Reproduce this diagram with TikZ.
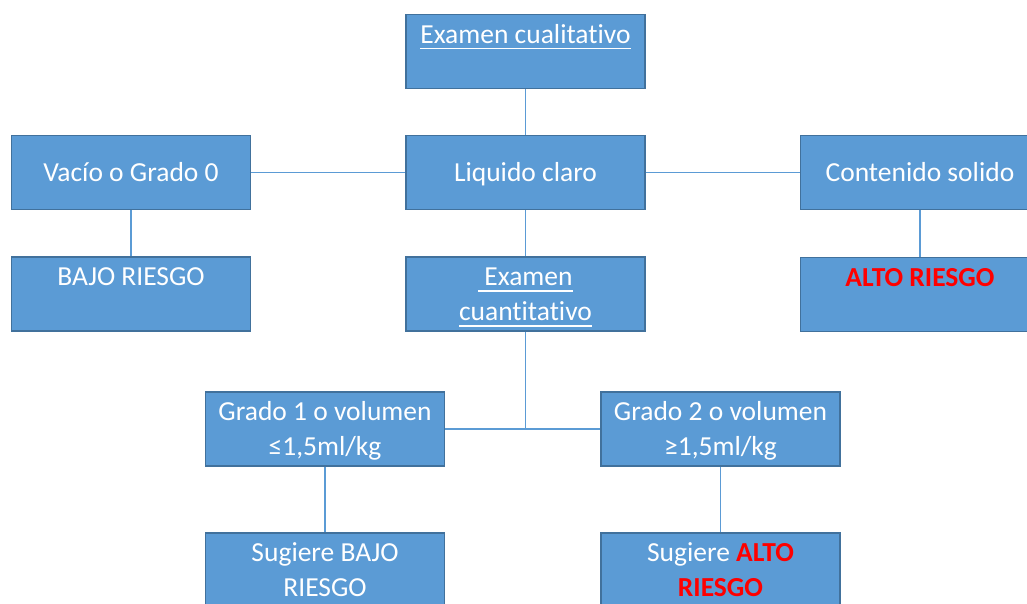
\documentclass[tikz,border=0pt]{standalone}
\usepackage{fontspec}
\setmainfont{Carlito}[Ligatures=NoCommon]
\definecolor{boxfill}{HTML}{5B9BD5}
\definecolor{boxline}{HTML}{41719C}
\definecolor{linkcol}{HTML}{5B9BD5}
\definecolor{riskred}{HTML}{FF0000}
\newcommand\myul[1]{\setbox0\hbox{#1}\rlap{\rule[-6pt]{\wd0}{1.1pt}}\box0}
\newcommand\risk[1]{{\color{riskred}\bfseries #1}}
\newcommand\mystrut{\rule[-8.5pt]{0pt}{35pt}}
\begin{document}
\begin{tikzpicture}[x=1pt,y=-1pt,
  flowbox/.style={draw=boxline, line width=1.2pt, fill=boxfill, text=white,
    minimum width=239pt, minimum height=74pt, inner sep=0pt, align=center,
    font=\fontsize{27.5}{35}\selectfont},
  link/.style={draw=linkcol, line width=1.5pt}]
\useasboundingbox (0,0) rectangle (1027,603);
\clip (0,0) rectangle (1027,603);
\node[flowbox] (cual) at (525.5,51.5) {\mystrut\myul{Examen cualitativo}\\\mystrut};
\node[flowbox] (vac) at (131,172.5) {\mystrut Vacío o Grado 0};
\node[flowbox] (liq) at (525.5,172.5) {\mystrut Liquido claro};
\node[flowbox] (cont) at (920,172.5) {\mystrut Contenido solido};
\node[flowbox] (bajo) at (131,294) {\mystrut BAJO RIESGO\\\mystrut};
\node[flowbox] (cuan) at (525.5,294) {\mystrut\myul{\hspace{6pt}Examen}\\\mystrut\myul{cuantitativo}};
\node[flowbox] (alto) at (920,294.5) {\mystrut\risk{ALTO RIESGO}\\\mystrut};
\node[flowbox] (g1) at (325,429) {\mystrut Grado 1 o volumen\\\mystrut ≤1,5ml/kg};
\node[flowbox] (g2) at (720.5,429) {\mystrut Grado 2 o volumen\\\mystrut ≥1,5ml/kg};
\node[flowbox] (sb) at (325,570) {\mystrut Sugiere BAJO\\\mystrut RIESGO};
\node[flowbox] (sa) at (720.5,570) {\mystrut Sugiere \risk{ALTO}\\\mystrut\risk{RIESGO}};
\coordinate (junc) at (cuan.south |- g1.east);
\draw[link] (cual.south) -- (liq.north);
\draw[link] (vac.east) -- (liq.west);
\draw[link] (liq.east) -- (cont.west);
\draw[link] (vac.south) -- (bajo.north);
\draw[link] (liq.south) -- (cuan.north);
\draw[link] (cont.south) -- (alto.north);
\draw[link] (cuan.south) -- (junc);
\draw[link] (g1.east) -- (g2.west);
\draw[link] (g1.south) -- (sb.north);
\draw[link] (g2.south) -- (sa.north);
\end{tikzpicture}
\end{document}
